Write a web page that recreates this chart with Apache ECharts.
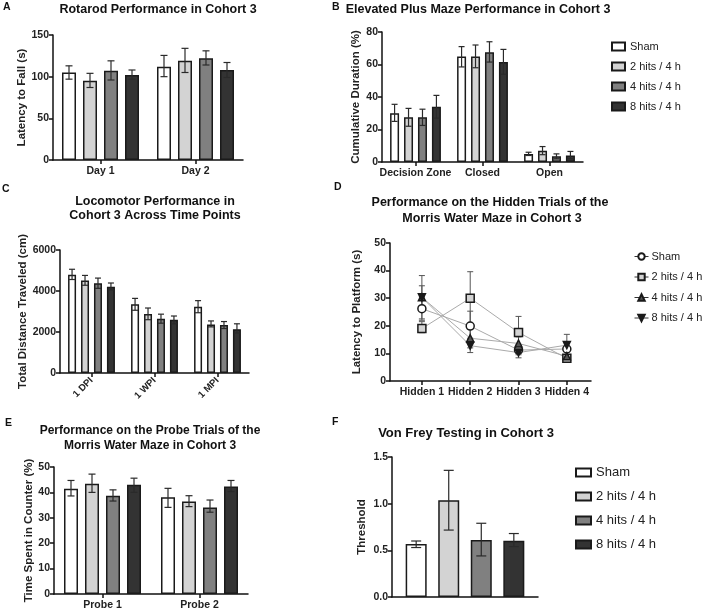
<!DOCTYPE html>
<html><head><meta charset="utf-8">
<script src="https://cdn.jsdelivr.net/npm/echarts@6/dist/echarts.min.js"></script>
<style>html,body{margin:0;padding:0;background:#fff}#c{width:708px;height:611px}</style>
</head><body><div id="c"></div>
<script>
// ---------- DATA ----------
const groups = ['Sham', '2 hits / 4 h', '4 hits / 4 h', '8 hits / 4 h'];

// A: Rotarod
const rotarodCats = ['Day 1', 'Day 2'];
const rotarodMean = [[105, 112], [95, 119], [107, 122], [102, 108]];
const rotarodLow  = [[97, 100], [87, 105], [96, 114], [97, 99]];
const rotarodHigh = [[113, 125.5], [104, 134], [119, 131], [108, 117]];

// B: Elevated plus maze
const epmCats = ['Decision Zone', 'Closed', 'Open'];
const epmMean = [[30, 65, 5], [27.5, 65, 7], [27.5, 67.5, 3.5], [34, 61.5, 4]];
const epmLow  = [[25, 58.5, 4], [22, 58, 4.5], [22.5, 61.5, 2], [27, 54, 2]];
const epmHigh = [[35.5, 71, 6], [33, 72, 9.5], [32.5, 74, 5], [41, 69.3, 6.5]];

// C: Locomotor
const locoCats = ['1 DPI', '1 WPI', '1 MPI'];
const locoMean = [[4790, 3350, 3230], [4510, 2880, 2370], [4380, 2650, 2340], [4210, 2600, 2140]];
const locoLow  = [[4560, 3060, 2940], [4280, 2600, 2250], [4130, 2430, 2170], [4050, 2400, 1950]];
const locoHigh = [[5060, 3640, 3530], [4760, 3170, 2540], [4630, 2870, 2510], [4390, 2780, 2400]];

// D: Hidden trials
const hiddenX = [1, 2, 3, 4];
const hiddenLabels = ['Hidden 1', 'Hidden 2', 'Hidden 3', 'Hidden 4'];
const hiddenMean = [[26.2, 19.9, 11.2, 11.6], [19, 30, 17.6, 8.2], [30.3, 15.5, 13.6, 9], [30.3, 12.8, 10.3, 13]];
const hiddenLow  = [[22, 15, 9.5, 9.5], [17.5, 20.5, 12, 7], [22.5, 12, 11, 7.5], [26, 10.3, 8.4, 9.5]];
const hiddenHigh = [[30.5, 25.3, 13, 13.5], [21.5, 39.6, 23.4, 9.5], [38.2, 19, 16, 10.5], [34.5, 15.5, 12, 16.9]];

// E: Probe trials
const probeCats = ['Probe 1', 'Probe 2'];
const probeMean = [[41.4, 38.1], [43.4, 36.4], [38.7, 34.1], [43, 42.3]];
const probeLow  = [[38.6, 34.1], [40, 34.4], [36.6, 32.2], [40, 40.3]];
const probeHigh = [[44.7, 41.6], [47.2, 38.7], [41, 37], [45.6, 44.7]];

// F: Von Frey
const vfCats = [''];
const vfMean = [[0.568], [1.037], [0.61], [0.603]];
const vfLow  = [[0.53], [0.717], [0.44], [0.54]];
const vfHigh = [[0.60], [1.357], [0.79], [0.68]];

// ---------- STYLE ----------
const FONT = 'Liberation Sans';
const fills = ['#ffffff', '#d3d3d3', '#808080', '#333333'];
const edge = '#1a1a1a';

function errRender(offset, cap, color, lw) {
  return function (params, api) {
    const x = api.value(0), lo = api.value(1), hi = api.value(2);
    const p1 = api.coord([x, lo]), p2 = api.coord([x, hi]);
    const cx = p1[0] + offset;
    const st = { stroke: color, lineWidth: lw || 1 };
    return { type: 'group', children: [
      { type: 'line', shape: { x1: cx, y1: p1[1], x2: cx, y2: p2[1] }, style: st },
      { type: 'line', shape: { x1: cx - cap / 2, y1: p1[1], x2: cx + cap / 2, y2: p1[1] }, style: st },
      { type: 'line', shape: { x1: cx - cap / 2, y1: p2[1], x2: cx + cap / 2, y2: p2[1] }, style: st }
    ]};
  };
}

const axisLine = { show: true, lineStyle: { color: '#111', width: 1.5 } };
const axisTick = { show: true, length: 4, lineStyle: { color: '#111', width: 1.5 } };
const tickFont = { fontFamily: FONT, fontWeight: 'bold', fontSize: 10.5, color: '#222' };

function yAx(gi, min, max, interval, name, gap, fmt) {
  return {
    type: 'value', gridIndex: gi, min: min, max: max, interval: interval,
    name: name, nameLocation: 'middle', nameGap: gap,
    nameTextStyle: { fontFamily: FONT, fontWeight: 'bold', fontSize: 11.5, color: '#222' },
    axisLine: axisLine, axisTick: axisTick, splitLine: { show: false },
    axisLabel: Object.assign({ margin: 4, formatter: fmt || ((v) => String(v)) }, tickFont)
  };
}
function xCat(gi, cats, extra) {
  return Object.assign({
    type: 'category', gridIndex: gi, data: cats,
    axisLine: axisLine, axisTick: Object.assign({ alignWithLabel: true }, axisTick),
    axisLabel: Object.assign({ margin: 6, interval: 0 }, tickFont, { fontSize: 10.5 })
  }, extra || {});
}

const series = [];
function barPanel(gi, cats, mean, low, high, bw, gapFrac, cap) {
  const step = bw * (1 + gapFrac);
  for (let i = 0; i < 4; i++) {
    series.push({
      type: 'bar', name: groups[i], xAxisIndex: gi, yAxisIndex: gi,
      data: mean[i], barWidth: bw, barGap: (gapFrac * 100) + '%',
      itemStyle: { color: fills[i], borderColor: edge, borderWidth: 1.5 },
      emphasis: { disabled: true }, silent: true
    });
  }
  for (let i = 0; i < 4; i++) {
    series.push({
      type: 'custom', xAxisIndex: gi, yAxisIndex: gi, z: 5, silent: true,
      encode: { x: 0, y: [1, 2] },
      data: cats.map((c, j) => [j, low[i][j], high[i][j]]),
      renderItem: errRender((i - 1.5) * step, cap, '#2a2a2a', 1.2)
    });
  }
}

barPanel(0, rotarodCats, rotarodMean, rotarodLow, rotarodHigh, 14, 0.5, 7);
barPanel(1, epmCats, epmMean, epmLow, epmHigh, 9, 0.55, 6);
barPanel(2, locoCats, locoMean, locoLow, locoHigh, 8, 0.62, 6);
barPanel(4, probeCats, probeMean, probeLow, probeHigh, 14, 0.5, 7);
barPanel(5, vfCats, vfMean, vfLow, vfHigh, 21, 0.55, 10);

// D: line panel
const dSymbols = ['circle', 'rect', 'triangle', 'triangle'];
const dRot = [0, 0, 0, 180];
const dFill = ['#ffffff', '#d3d3d3', '#555555', '#1a1a1a'];
const dSize = [8, 8, 7, 7];
for (let i = 0; i < 4; i++) {
  series.push({
    type: 'custom', xAxisIndex: 3, yAxisIndex: 3, z: 1, silent: true,
    encode: { x: 0, y: [1, 2] },
    data: hiddenX.map((x, j) => [x, hiddenLow[i][j], hiddenHigh[i][j]]),
    renderItem: errRender(0, 6, '#555', 1)
  });
}
for (let i = 0; i < 4; i++) {
  series.push({
    type: 'line', name: 'D:' + groups[i], xAxisIndex: 3, yAxisIndex: 3, z: 3,
    data: hiddenX.map((x, j) => [x, hiddenMean[i][j]]),
    symbol: dSymbols[i], symbolRotate: dRot[i], symbolSize: dSize[i],
    showAllSymbol: true,
    lineStyle: { color: '#aaaaaa', width: 1 },
    itemStyle: { color: dFill[i], borderColor: edge, borderWidth: 1.5 },
    emphasis: { disabled: true }, silent: true
  });
}

function txt(t, x, y, size, align, weight) {
  return { type: 'text', x: x, y: y, silent: true,
    style: { text: t, textAlign: align || 'center', textVerticalAlign: 'middle',
      font: (weight || 'bold') + ' ' + size + 'px "' + FONT + '"', fill: '#111' } };
}

const option = {
  animation: false,
  backgroundColor: '#fff',
  grid: [
    { left: 53, top: 35, width: 190, height: 125 },
    { left: 382, top: 32, width: 201, height: 130 },
    { left: 60, top: 250, width: 189, height: 123 },
    { left: 390, top: 243, width: 201, height: 138 },
    { left: 54, top: 467, width: 194, height: 127 },
    { left: 392, top: 457, width: 146, height: 140 }
  ],
  xAxis: [
    xCat(0, rotarodCats),
    xCat(1, epmCats),
    xCat(2, locoCats, { axisLabel: Object.assign({ margin: 6, interval: 0, rotate: 45 }, tickFont, { fontSize: 9.5 }) }),
    {
      type: 'value', gridIndex: 3, min: 0.34, max: 4.5,
      axisLine: axisLine, splitLine: { show: false },
      axisTick: Object.assign({ customValues: hiddenX }, axisTick),
      axisLabel: Object.assign({ customValues: hiddenX, margin: 6,
        formatter: (v) => hiddenLabels[hiddenX.indexOf(v)] || '' }, tickFont, { fontSize: 10.5 })
    },
    xCat(4, probeCats),
    xCat(5, vfCats, { axisTick: { show: false }, axisLabel: { show: false } })
  ],
  yAxis: [
    yAx(0, 0, 150, 50, 'Latency to Fall (s)', 25),
    yAx(1, 0, 80, 20, 'Cumulative Duration (%)', 20),
    yAx(2, 0, 6000, 2000, 'Total Distance Traveled (cm)', 26),
    yAx(3, 0, 50, 10, 'Latency to Platform (s)', 27),
    yAx(4, 0, 50, 10, 'Time Spent in Counter (%)', 19),
    yAx(5, 0, 1.5, 0.5, 'Threshold', 24, (v) => v.toFixed(1))
  ],
  legend: [
    { orient: 'vertical', left: 606, top: 36, itemWidth: 13, itemHeight: 8, itemGap: 9,
      icon: 'rect', data: groups, selectedMode: false,
      textStyle: { fontFamily: FONT, fontSize: 11, color: '#222' } },
    { orient: 'vertical', left: 629, top: 246, itemWidth: 14, itemHeight: 8, itemGap: 9.5,
      data: groups.map(g => 'D:' + g), selectedMode: false,
      lineStyle: { color: '#333', width: 1 },
      formatter: (n) => n.replace(/^D:/, ''),
      textStyle: { fontFamily: FONT, fontSize: 11, color: '#222', padding: [0, 0, 0, -2] } },
    { orient: 'vertical', left: 570, top: 461, itemWidth: 15, itemHeight: 8, itemGap: 11,
      icon: 'rect', data: groups, selectedMode: false,
      textStyle: { fontFamily: FONT, fontSize: 13, color: '#222' } }
  ],
  graphic: [
    txt('A', 3, 7, 10.5, 'left'),
    txt('Rotarod Performance in Cohort 3', 158, 10, 12.5),
    txt('B', 332, 7, 10.5, 'left'),
    txt('Elevated Plus Maze Performance in Cohort 3', 478, 10, 12.5),
    txt('C', 2, 189, 10.5, 'left'),
    txt('Locomotor Performance in', 155, 202, 12.5),
    txt('Cohort 3 Across Time Points', 155, 216, 12.5),
    txt('D', 334, 187, 10.5, 'left'),
    txt('Performance on the Hidden Trials of the', 490, 203, 12.5),
    txt('Morris Water Maze in Cohort 3', 492, 219, 12.5),
    txt('E', 5, 423, 10.5, 'left'),
    txt('Performance on the Probe Trials of the', 150, 431, 12),
    txt('Morris Water Maze in Cohort 3', 150, 446, 12),
    txt('F', 332, 422, 10.5, 'left'),
    txt('Von Frey Testing in Cohort 3', 466, 433, 13)
  ],
  series: series
};

const chart = echarts.init(document.getElementById('c'), null, { renderer: 'canvas' });
chart.setOption(option);
</script>
</body></html>
